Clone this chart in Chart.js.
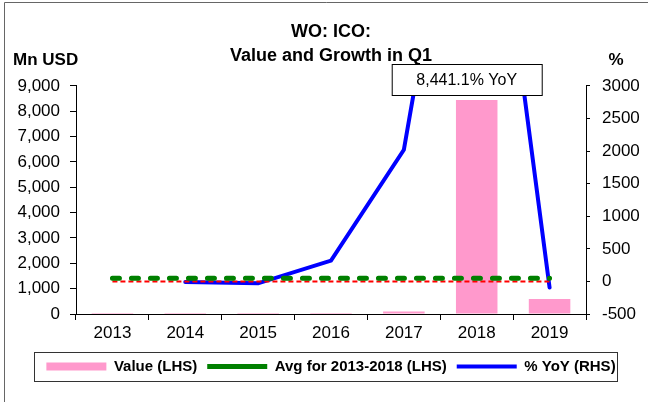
<!DOCTYPE html>
<html>
<head>
<meta charset="utf-8">
<script src="https://cdn.jsdelivr.net/npm/chart.js@4.4.1/dist/chart.umd.min.js"></script>
<style>
  body { margin: 0; background: #fff; }
  #wrap { width: 648px; height: 402px; position: relative; }
</style>
</head>
<body>
<div id="wrap"><canvas id="icoChart"></canvas></div>
<script>
// data
const years = ['2013', '2014', '2015', '2016', '2017', '2018', '2019'];
const valueUsd = [1.2, 1.2, 1.1, 4.7, 99, 8440, 590];          // Mn USD (LHS)
const avg2013to2018 = [1410, 1410, 1410, 1410, 1410, 1410, 1410]; // Mn USD (LHS)
const yoyPct = [null, -10, -30, 320, 2020, 8441.1, -93];         // % (RHS)
const zeroLine = [0, 0, 0, 0, 0, 0, 0];                         // % (RHS)
const leftTicks = [0, 9000, 1000];   // min, max, step
const rightTicks = [-500, 3000, 500];
const calloutIndex = 5;

const FONT = "'Liberation Sans', Arial, sans-serif";
Chart.defaults.font.family = FONT;
Chart.defaults.color = '#000';

// outer frame, axis unit labels
const framePlugin = {
  id: 'frame',
  afterDraw(chart) {
    const ctx = chart.ctx;
    ctx.save();
    ctx.strokeStyle = '#666';
    ctx.lineWidth = 1;
    ctx.beginPath();
    ctx.moveTo(4.5, 402);
    ctx.lineTo(4.5, 2.5);
    ctx.lineTo(648, 2.5);
    ctx.stroke();

    ctx.fillStyle = '#000';
    ctx.font = 'bold 17px ' + FONT;
    ctx.textBaseline = 'middle';
    ctx.textAlign = 'left';
    ctx.fillText('Mn USD', 13, 60);
    ctx.textAlign = 'center';
    ctx.fillText('%', 616, 60);
    ctx.restore();
  }
};

// callout box for the off-scale YoY point
const calloutPlugin = {
  id: 'callout',
  afterDatasetsDraw(chart) {
    const ctx = chart.ctx;
    const x = chart.scales.x.getPixelForValue(calloutIndex) - 10;
    const label = yoyPct[calloutIndex].toLocaleString('en-US', {minimumFractionDigits: 1}) + '% YoY';
    ctx.save();
    ctx.fillStyle = '#fff';
    ctx.strokeStyle = '#000';
    ctx.lineWidth = 1;
    ctx.fillRect(x - 75, 64, 150, 32);
    ctx.strokeRect(x - 75 + 0.5, 64.5, 150, 31);
    ctx.fillStyle = '#000';
    ctx.font = '16px ' + FONT;
    ctx.textAlign = 'center';
    ctx.textBaseline = 'middle';
    ctx.fillText(label, x, 81);
    ctx.restore();
  }
};

// border round the legend
const legendBoxPlugin = {
  id: 'legendBox',
  afterDraw(chart) {
    const hb = chart.legend.legendHitBoxes;
    if (!hb || !hb.length) return;
    const first = hb[0], last = hb[hb.length - 1];
    const cy = first.top + first.height / 2;
    const ctx = chart.ctx;
    ctx.save();
    ctx.strokeStyle = '#333';
    ctx.lineWidth = 1;
    ctx.strokeRect(Math.round(first.left - 12) + 0.5, Math.round(cy - 15) + 0.5,
      Math.round(last.left + last.width - first.left + 14), 29);
    ctx.restore();
  }
};

const ctx = document.getElementById('icoChart').getContext('2d');
const icoChart = new Chart(ctx, {
  type: 'bar',
  data: {
    labels: years,
    datasets: [{
      label: 'Value (LHS)',
      data: valueUsd,
      backgroundColor: '#ff99cc',
      borderWidth: 0,
      pointStyle: 'rect',
      yAxisID: 'y',
      categoryPercentage: 1,
      barPercentage: 0.57,
      order: 4
    }, {
      type: 'line',
      label: 'Avg for 2013-2018 (LHS)',
      data: avg2013to2018,
      borderColor: '#008000',
      backgroundColor: '#008000',
      borderWidth: 5,
      borderDash: [7, 12],
      borderCapStyle: 'round',
      pointRadius: 0,
      pointStyle: 'line',
      yAxisID: 'y',
      order: 1
    }, {
      type: 'line',
      label: '% YoY (RHS)',
      data: yoyPct,
      borderColor: '#0000ff',
      backgroundColor: '#0000ff',
      borderWidth: 4,
      borderCapStyle: 'round',
      pointRadius: 0,
      pointStyle: 'line',
      yAxisID: 'y1',
      order: 3
    }, {
      type: 'line',
      label: 'zero',
      data: zeroLine,
      borderColor: '#ff0000',
      borderWidth: 2,
      borderDash: [5, 3],
      pointRadius: 0,
      yAxisID: 'y1',
      order: 2
    }]
  },
  options: {
    responsive: true,
    maintainAspectRatio: false,
    animation: false,
    layout: { padding: { left: 14, right: 0, top: 0, bottom: 18 } },
    plugins: {
      title: {
        display: true,
        text: ['WO: ICO:', 'Value and Growth in Q1'],
        font: { size: 18, weight: 'bold', lineHeight: 1.33 },
        color: '#000',
        padding: { top: 20, bottom: 18 }
      },
      legend: {
        position: 'bottom',
        labels: {
          usePointStyle: true,
          pointStyleWidth: 60,
          boxHeight: 8,
          padding: 10,
          font: { size: 15, weight: 'bold' },
          filter: item => item.text !== 'zero',
          sort: (a, b) => a.datasetIndex - b.datasetIndex
        }
      },
      tooltip: { enabled: false }
    },
    scales: {
      x: {
        grid: { drawOnChartArea: false, color: '#000', tickLength: 6, offset: true },
        border: { color: '#000' },
        ticks: { font: { size: 17 }, padding: 3, maxRotation: 0 },
        afterFit: s => { s.height = 35; }
      },
      y: {
        position: 'left',
        min: leftTicks[0], max: leftTicks[1],
        ticks: { stepSize: leftTicks[2], font: { size: 17 }, padding: 10 },
        grid: { drawOnChartArea: false, color: '#000', tickLength: 6 },
        border: { color: '#000' },
        afterFit: s => { s.width = 62; }
      },
      y1: {
        position: 'right',
        min: rightTicks[0], max: rightTicks[1],
        ticks: { stepSize: rightTicks[2], font: { size: 17 }, padding: 12,
          callback: v => String(v) },
        grid: { drawOnChartArea: false, color: '#000', tickLength: 4 },
        border: { color: '#000' },
        afterFit: s => { s.width = 62; }
      }
    }
  },
  plugins: [framePlugin, calloutPlugin, legendBoxPlugin]
});
</script>
</body>
</html>
